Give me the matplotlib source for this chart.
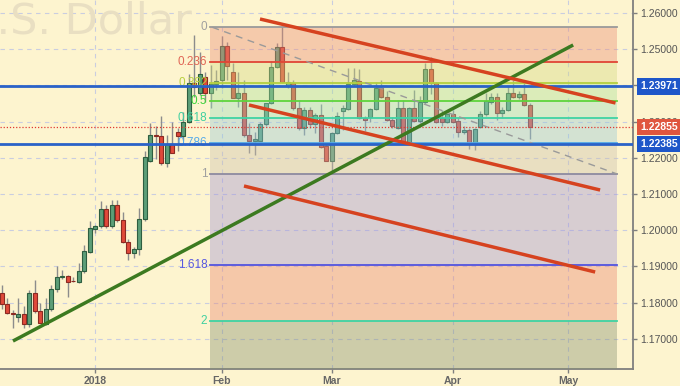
import numpy as np
import pandas as pd
import matplotlib
matplotlib.use("Agg")
import matplotlib.pyplot as plt
import matplotlib.transforms as mtrans
from matplotlib.patches import Rectangle
from matplotlib.colors import to_rgb

# ---------------- data ----------------
start_date = "2017-12-07"
opens = [1.1826, 1.1796, 1.1772, 1.1761, 1.1768, 1.1740, 1.1826, 1.1777, 1.1740, 1.1782,
         1.1837, 1.1871, 1.1873, 1.1860, 1.1858, 1.1886, 1.1941, 1.2004, 1.2012, 1.2058,
         1.2012, 1.2070, 1.2028, 1.1968, 1.1936, 1.1948, 1.2030, 1.2192, 1.2263, 1.2261,
         1.2185, 1.2237, 1.2270, 1.2261, 1.2298, 1.2407, 1.2380, 1.2424, 1.2380, 1.2404,
         1.2414, 1.2510, 1.2438, 1.2366, 1.2378, 1.2263, 1.2246, 1.2246, 1.2293, 1.2351,
         1.2450, 1.2507, 1.2398, 1.2407, 1.2337, 1.2281, 1.2332, 1.2293, 1.2318, 1.2233,
         1.2192, 1.2268, 1.2330, 1.2335, 1.2404, 1.2413, 1.2311, 1.2313, 1.2334, 1.2392,
         1.2367, 1.2304, 1.2281, 1.2337, 1.2241, 1.2337, 1.2302, 1.2353, 1.2444, 1.2406,
         1.2309, 1.2300, 1.2320, 1.2302, 1.2270, 1.2277, 1.2242, 1.2284, 1.2320, 1.2353,
         1.2367, 1.2325, 1.2332, 1.2380, 1.2369, 1.2375, 1.2345]
highs = [1.1849, 1.1812, 1.1780, 1.1812, 1.1791, 1.1835, 1.1862, 1.1798, 1.1812, 1.1849,
         1.1901, 1.1890, 1.1876, 1.1870, 1.1910, 1.1959, 1.2026, 1.2014, 1.2082, 1.2070,
         1.2083, 1.2083, 1.2051, 1.1975, 1.1954, 1.2061, 1.2220, 1.2295, 1.2288, 1.2315,
         1.2263, 1.2298, 1.2282, 1.2326, 1.2431, 1.2539, 1.2493, 1.2437, 1.2456, 1.2443,
         1.2536, 1.2521, 1.2461, 1.2437, 1.2415, 1.2295, 1.2272, 1.2300, 1.2352, 1.2467,
         1.2516, 1.2560, 1.2438, 1.2415, 1.2360, 1.2341, 1.2340, 1.2323, 1.2348, 1.2240,
         1.2272, 1.2327, 1.2346, 1.2447, 1.2447, 1.2446, 1.2315, 1.2337, 1.2410, 1.2415,
         1.2385, 1.2314, 1.2360, 1.2360, 1.2340, 1.2387, 1.2371, 1.2461, 1.2478, 1.2410,
         1.2332, 1.2325, 1.2332, 1.2309, 1.2288, 1.2281, 1.2281, 1.2329, 1.2378, 1.2380,
         1.2380, 1.2341, 1.2398, 1.2415, 1.2385, 1.2406, 1.2351]
lows = [1.1782, 1.1769, 1.1731, 1.1747, 1.1729, 1.1732, 1.1772, 1.1743, 1.1738, 1.1778,
        1.1830, 1.1864, 1.1816, 1.1857, 1.1855, 1.1883, 1.1936, 1.1993, 1.2005, 1.2007,
        1.2005, 1.2023, 1.1965, 1.1918, 1.1924, 1.1931, 1.2025, 1.2189, 1.2196, 1.2180,
        1.2175, 1.2212, 1.2219, 1.2249, 1.2295, 1.2369, 1.2373, 1.2355, 1.2337, 1.2387,
        1.2393, 1.2415, 1.2364, 1.2340, 1.2258, 1.2212, 1.2208, 1.2244, 1.2288, 1.2349,
        1.2447, 1.2407, 1.2393, 1.2332, 1.2277, 1.2263, 1.2281, 1.2268, 1.2227, 1.2191,
        1.2155, 1.2266, 1.2277, 1.2332, 1.2398, 1.2306, 1.2274, 1.2300, 1.2332, 1.2364,
        1.2302, 1.2281, 1.2280, 1.2238, 1.2238, 1.2299, 1.2296, 1.2349, 1.2375, 1.2296,
        1.2288, 1.2296, 1.2296, 1.2258, 1.2266, 1.2223, 1.2222, 1.2282, 1.2315, 1.2349,
        1.2304, 1.2309, 1.2329, 1.2365, 1.2362, 1.2343, 1.2251]
closes = [1.1796, 1.1772, 1.1769, 1.1768, 1.1740, 1.1826, 1.1777, 1.1744, 1.1782, 1.1838,
          1.1872, 1.1873, 1.1858, 1.1859, 1.1886, 1.1943, 1.2005, 1.2012, 1.2058, 1.2012,
          1.2070, 1.2028, 1.1968, 1.1936, 1.1948, 1.2030, 1.2201, 1.2263, 1.2260, 1.2185,
          1.2237, 1.2214, 1.2261, 1.2298, 1.2407, 1.2395, 1.2431, 1.2380, 1.2404, 1.2413,
          1.2510, 1.2454, 1.2366, 1.2378, 1.2263, 1.2246, 1.2251, 1.2293, 1.2351, 1.2450,
          1.2507, 1.2410, 1.2409, 1.2337, 1.2281, 1.2332, 1.2293, 1.2318, 1.2231, 1.2192,
          1.2268, 1.2315, 1.2337, 1.2403, 1.2414, 1.2311, 1.2304, 1.2334, 1.2392, 1.2367,
          1.2304, 1.2288, 1.2337, 1.2241, 1.2337, 1.2302, 1.2355, 1.2444, 1.2406, 1.2300,
          1.2300, 1.2320, 1.2300, 1.2270, 1.2277, 1.2242, 1.2279, 1.2320, 1.2357, 1.2367,
          1.2325, 1.2332, 1.2380, 1.2369, 1.2375, 1.2345, 1.22855]

fib_price_0 = 1.25605
fib_price_1 = 1.21552
fib_ratios = [0, 0.236, 0.382, 0.5, 0.618, 0.786, 1, 1.618, 2]
fib_labels = ["0", "0.236", "0.382", "0.5", "0.618", "0.786", "1", "1.618", "2"]

resistance_level = 1.23971
support_level = 1.22385
last_price = 1.22855

price_ticks = [1.17, 1.18, 1.19, 1.20, 1.21, 1.22, 1.23, 1.24, 1.25, 1.26]
tick_dates = ["2018-01-01", "2018-02-01", "2018-03-01", "2018-04-02", "2018-05-01"]
tick_labels = ["2018", "Feb", "Mar", "Apr", "May"]

# trend lines: (bar index, price) endpoints
green_trend = [(2.05, 1.16939), (103.9, 1.25116)]
red_trends = [[(46.96, 1.25834), (111.6, 1.23514)],
              [(44.96, 1.23459), (108.8, 1.21110)],
              [(44.05, 1.21221), (107.9, 1.18845)]]
fib_x_range = (37.9, 111.9)

# ---------------- style ----------------
BG = "#fdf4cf"
plt.rcParams["font.family"] = ["Liberation Sans", "DejaVu Sans"]

W, H = 680, 386
fig = plt.figure(figsize=(W / 100, H / 100), dpi=100, facecolor=BG)
ax = fig.add_axes([0, 17 / H, 633 / W, 369 / H], facecolor=BG)

all_dates = pd.bdate_range(start_date, periods=140)
idx = np.arange(len(opens))

ax.set_xlim(-0.31, 114.78)
ax.set_ylim(1.16166, 1.26359)

# grid
ax.set_axisbelow(True)
ax.grid(True, color="#c9cde0", linestyle=(0, (4, 4)), linewidth=0.8)

# watermark
ax.text(192 / 633, 1 - 33 / 369, "U.S. Dollar", transform=ax.transAxes,
        ha="right", va="baseline", fontsize=31, color="#e9dfc2",
        family="DejaVu Sans", zorder=1)

# candles
up_fc, up_ec = "#5c9e78", "#2e5e40"
dn_fc, dn_ec = "#e0493a", "#8c2a22"
bw = 0.72
for i, o, h, l, c in zip(idx, opens, highs, lows, closes):
    ax.plot([i, i], [l, h], color="#8c8c8c", lw=1.0, zorder=2, solid_capstyle="butt")
    up = c >= o
    lo = min(o, c)
    ht = max(abs(c - o), 0.00008)
    ax.add_patch(Rectangle((i - bw / 2, lo), bw, ht,
                           facecolor=up_fc if up else dn_fc,
                           edgecolor=up_ec if up else dn_ec, lw=0.8, zorder=3))

# fib retracement
bg_rgb = np.array(to_rgb(BG))
alpha = 0.4
band_seen = ["#f6caab", "#ece9b0", "#dbecb9", "#d5ebc8", "#d3e3d3",
             "#e9dfc1", "#d8cdd2", "#f5c8a9", "#cdcca9"]
line_cols = ["#9a9a9a", "#e04535", "#b4d040", "#5ed43c", "#3ed3a3",
             "#52a8e8", "#8d8aa0", "#5254e0", "#3ed3a3"]
lab_cols = ["#a0a0a0", "#e06555", "#b8d040", "#3ed43c", "#40d0a0",
            "#55aaea", "#a0a0a0", "#5858e0", "#40d0a0"]
fib_prices = [fib_price_0 - r * (fib_price_0 - fib_price_1) for r in fib_ratios]
x0, x1 = fib_x_range
bounds = fib_prices + [ax.get_ylim()[0]]
for k in range(len(fib_prices)):
    seen = np.array(to_rgb(band_seen[k]))
    col = np.clip((seen - (1 - alpha) * bg_rgb) / alpha, 0, 1)
    ax.fill_between([x0, x1], bounds[k], bounds[k + 1], color=col, alpha=alpha,
                    lw=0, zorder=4)
for p, lc, lab, tc in zip(fib_prices, line_cols, fib_labels, lab_cols):
    ax.plot([x0, x1], [p, p], color=lc, lw=1.3, zorder=5)
    ax.annotate(lab, (x0, p), xytext=(-2, 0), textcoords="offset points",
                ha="right", va="center", fontsize=8.5, color=tc, zorder=6)
ax.plot([x0 + 0.4, x1], [fib_prices[0], fib_prices[6]], color="#9a9a9a",
        lw=1.0, linestyle=(0, (5, 4)), zorder=5)

# horizontal levels
ax.axhline(resistance_level, color="#2a62c8", lw=2.0, zorder=6)
ax.axhline(support_level, color="#2a62c8", lw=2.0, zorder=6)
ax.axhline(last_price, color="#e03a30", lw=0.9, linestyle=(0, (1, 1.5)), zorder=6)

# trend lines
(gx0, gy0), (gx1, gy1) = green_trend
ax.plot([gx0, gx1], [gy0, gy1], color="#3c7a20", lw=2.5, zorder=7,
        solid_capstyle="butt")
for (ax0, ay0), (ax1, ay1) in red_trends:
    ax.plot([ax0, ax1], [ay0, ay1], color="#d6421f", lw=2.5, zorder=7,
            solid_capstyle="butt")

# axes styling
for s in ["left", "top"]:
    ax.spines[s].set_visible(False)
for s in ["right", "bottom"]:
    ax.spines[s].set_color("#7f7f7f")
    ax.spines[s].set_linewidth(1.3)
ax.yaxis.tick_right()
ax.set_yticks(price_ticks)
ax.set_yticklabels([f"{v:.5f}" for v in price_ticks])
ax.tick_params(axis="y", colors="#7f7f7f", labelcolor="#555555", labelsize=7.5,
               length=3, width=1, pad=2)
tick_pos = [all_dates.get_loc(pd.Timestamp(d)) for d in tick_dates]
ax.set_xticks(tick_pos)
ax.set_xticklabels(tick_labels, fontweight="bold")
ax.tick_params(axis="x", colors="#7f7f7f", labelcolor="#666666", labelsize=7.5,
               length=3, width=1, pad=2)

# price boxes on the right
blend = mtrans.blended_transform_factory(ax.transAxes, ax.transData)
for p, fc in [(resistance_level, "#1e56c9"), (last_price, "#e0563f"),
              (support_level, "#1e56c9")]:
    ax.text(1.012, p, f"{p:.5f}", transform=blend, ha="left", va="center",
            fontsize=7.5, fontweight="bold", color="white", clip_on=False, zorder=10,
            bbox=dict(boxstyle="square,pad=0.3", fc=fc, ec="none"))

fig.savefig("out.png", dpi=100, facecolor=BG)
